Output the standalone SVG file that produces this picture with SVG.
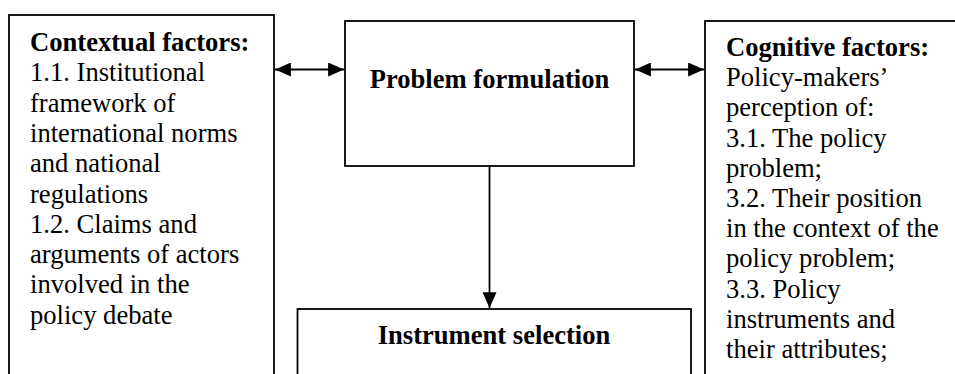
<svg xmlns="http://www.w3.org/2000/svg" width="955" height="374" viewBox="0 0 955 374">
  <style>
    .box { fill: #fff; stroke: #000; stroke-width: 1.8; }
    .txt { font-family: "Liberation Serif", "Times New Roman", serif; font-size: 26.6px; fill: #000; }
    .b { font-weight: bold; }
    .conn { stroke: #000; stroke-width: 1.8; fill: none; }
  </style>
  <defs>
    <!-- solid triangular arrowhead, sized in user units -->
    <marker id="head" viewBox="0 0 16 14" refX="16" refY="7" markerWidth="16" markerHeight="14" markerUnits="userSpaceOnUse" orient="auto-start-reverse">
      <path d="M0,0 L16,7 L0,14 Z" fill="#000"/>
    </marker>
  </defs>
  <rect width="955" height="374" fill="#fff"/>

  <g id="contextual-factors">
    <rect class="box" x="9" y="15" width="265" height="400"/>
    <text class="txt" x="30" y="51">
      <tspan class="b" x="30" y="51">Contextual factors:</tspan>
      <tspan x="30" y="81.3">1.1. Institutional</tspan>
      <tspan x="30" y="111.6">framework of</tspan>
      <tspan x="30" y="141.9">international norms</tspan>
      <tspan x="30" y="172.2">and national</tspan>
      <tspan x="30" y="202.5">regulations</tspan>
      <tspan x="30" y="232.8">1.2. Claims and</tspan>
      <tspan x="30" y="263.1">arguments of actors</tspan>
      <tspan x="30" y="293.4">involved in the</tspan>
      <tspan x="30" y="323.7">policy debate</tspan>
    </text>
  </g>

  <g id="problem-formulation">
    <rect class="box" x="345" y="21" width="289" height="145"/>
    <text class="txt b" x="489.5" y="88" text-anchor="middle">Problem formulation</text>
  </g>

  <g id="instrument-selection">
    <rect class="box" x="297.5" y="309" width="393.5" height="100"/>
    <text class="txt b" x="494" y="344" text-anchor="middle">Instrument selection</text>
  </g>

  <g id="cognitive-factors">
    <rect class="box" x="705" y="21" width="300" height="400"/>
    <text class="txt" x="726" y="56">
      <tspan class="b" x="726" y="56">Cognitive factors:</tspan>
      <tspan x="726" y="86.2">Policy-makers’</tspan>
      <tspan x="726" y="116.4">perception of:</tspan>
      <tspan x="726" y="146.6">3.1. The policy</tspan>
      <tspan x="726" y="176.8">problem;</tspan>
      <tspan x="726" y="207">3.2. Their position</tspan>
      <tspan x="726" y="237.2">in the context of the</tspan>
      <tspan x="726" y="267.4">policy problem;</tspan>
      <tspan x="726" y="297.6">3.3. Policy</tspan>
      <tspan x="726" y="327.8">instruments and</tspan>
      <tspan x="726" y="358">their attributes;</tspan>
    </text>
  </g>

  <g id="connectors">
    <line class="conn" x1="274.9" y1="69.5" x2="344.1" y2="69.5" marker-start="url(#head)" marker-end="url(#head)"/>
    <line class="conn" x1="634.9" y1="69.5" x2="704.1" y2="69.5" marker-start="url(#head)" marker-end="url(#head)"/>
    <line class="conn" x1="489.5" y1="166.9" x2="489.5" y2="308.2" marker-end="url(#head)"/>
  </g>
</svg>
